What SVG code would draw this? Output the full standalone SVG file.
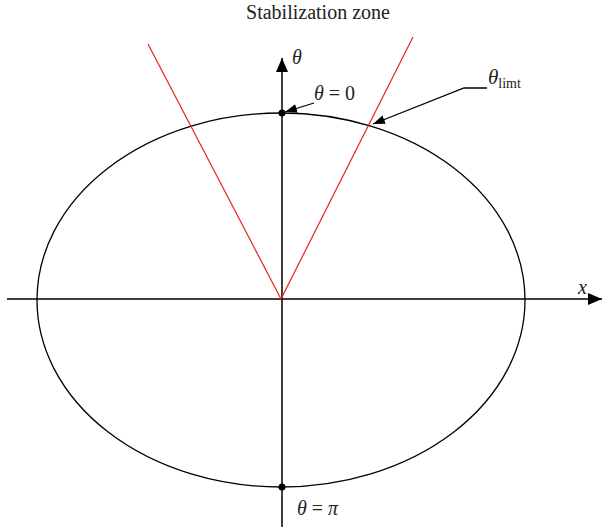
<svg xmlns="http://www.w3.org/2000/svg" width="602" height="531" viewBox="0 0 602 531">
<style>
.ax{stroke:#000;stroke-width:1.5;fill:none}
.red{stroke:#e8201e;stroke-width:1.2;fill:none}
.lbl{font-family:"Liberation Serif","DejaVu Serif",serif;font-size:20px;fill:#222}
.it{font-style:italic}
</style>
<defs>
<marker id="ah" viewBox="0 0 12 10" refX="12" refY="5" markerWidth="12" markerHeight="10" markerUnits="userSpaceOnUse" orient="auto">
<path d="M0,0.5 L12,5 L0,9.5 z" fill="#000"/>
</marker>
<marker id="axh" viewBox="0 0 14 12" refX="14" refY="6" markerWidth="14" markerHeight="12" markerUnits="userSpaceOnUse" orient="auto">
<path d="M0,0 L14,6 L0,12 z" fill="#000"/>
</marker>
</defs>
<text class="lbl" x="318" y="19" text-anchor="middle" font-size="18.5">Stabilization zone</text>
<g id="ellipse"><ellipse cx="281" cy="300" rx="244" ry="187" fill="none" stroke="#000" stroke-width="1.3"/></g>
<g id="axes">
<line class="ax" x1="7" y1="299" x2="602" y2="299" marker-end="url(#axh)"/>
<line class="ax" x1="282" y1="527" x2="282" y2="58" marker-end="url(#axh)"/>
</g>
<g id="zone">
<line class="red" x1="281" y1="299" x2="148" y2="44"/>
<line class="red" x1="281" y1="299" x2="413" y2="37"/>
</g>
<g id="points">
<circle cx="282" cy="113" r="3.5" fill="#000"/>
<circle cx="282" cy="487" r="3.5" fill="#000"/>
</g>
<g id="connectors">
<line x1="314" y1="103" x2="285" y2="112" stroke="#000" stroke-width="1.3" marker-end="url(#ah)"/>
<polyline points="487,88 464,88 373,124" fill="none" stroke="#000" stroke-width="1.3" marker-end="url(#ah)"/>
</g>
<g id="labels">
<text class="lbl it" x="292" y="64" font-size="21">θ</text>
<text class="lbl" x="314" y="100"><tspan class="it">θ</tspan> = 0</text>
<text class="lbl" x="297" y="515"><tspan class="it">θ</tspan> = <tspan class="it">π</tspan></text>
<text class="lbl it" x="578" y="294" font-size="21">x</text>
<text class="lbl" x="488" y="84"><tspan class="it" font-size="21">θ</tspan><tspan font-size="14" dy="4">limt</tspan></text>
</g>
</svg>
